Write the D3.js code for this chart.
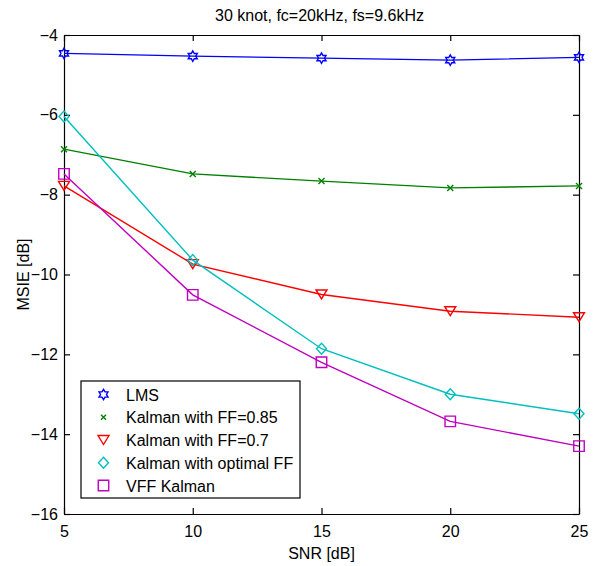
<!DOCTYPE html>
<html>
<head>
<meta charset="utf-8">
<script src="https://cdn.jsdelivr.net/npm/d3@7"></script>
<style>
  html, body { margin: 0; padding: 0; background: #fff; }
  svg { display: block; }
  text { font-family: "Liberation Sans", Arial, sans-serif; fill: #000; }
</style>
</head>
<body>
<script>
// SNR sweep and the MSIE of each estimator
const snr = [5, 10, 15, 20, 25];
const lms = [-4.46, -4.53, -4.58, -4.63, -4.56];
const kalmanFF085 = [-6.86, -7.48, -7.66, -7.83, -7.78];
const kalmanFF07 = [-7.78, -9.74, -10.50, -10.92, -11.07];
const kalmanOptimal = [-6.04, -9.64, -11.86, -13.00, -13.49];
const vffKalman = [-7.48, -10.51, -12.20, -13.68, -14.30];

const seriesNames = ["LMS", "Kalman with FF=0.85", "Kalman with FF=0.7", "Kalman with optimal FF", "VFF Kalman"];
const xTicks = [5, 10, 15, 20, 25];
const yTicks = [-16, -14, -12, -10, -8, -6, -4];
const titleText = "30 knot, fc=20kHz, fs=9.6kHz";
const xLabel = "SNR [dB]";
const yLabel = "MSIE [dB]";

const W = 596, H = 566;
const plot = { left: 64, right: 579, top: 35, bottom: 514 };

const x = d3.scaleLinear().domain([5, 25]).range([plot.left, plot.right]);
const y = d3.scaleLinear().domain([-16, -4]).range([plot.bottom, plot.top]);

// marker shapes (custom d3 symbol types)
const hexagram = {
  draw(ctx, size) {
    const R = Math.sqrt(size) * 0.62, r = R / Math.sqrt(3);
    for (let i = 0; i < 12; i++) {
      const a = -Math.PI / 2 + i * Math.PI / 6;
      const rr = i % 2 === 0 ? R : r;
      const px = rr * Math.cos(a), py = rr * Math.sin(a);
      i === 0 ? ctx.moveTo(px, py) : ctx.lineTo(px, py);
    }
    ctx.closePath();
  }
};
const cross = {
  draw(ctx, size) {
    const s = Math.sqrt(size) / 2;
    ctx.moveTo(-s, -s); ctx.lineTo(s, s);
    ctx.moveTo(-s, s); ctx.lineTo(s, -s);
  }
};
const triDown = {
  draw(ctx, size) {
    const w = Math.sqrt(size) * 1.1 / 2, h = Math.sqrt(size) * 0.9;
    ctx.moveTo(-w, -h / 2); ctx.lineTo(w, -h / 2); ctx.lineTo(0, h / 2); ctx.closePath();
  }
};
const diamond = {
  draw(ctx, size) {
    const w = Math.sqrt(size) * 0.5, h = Math.sqrt(size) * 0.55;
    ctx.moveTo(0, -h); ctx.lineTo(w, 0); ctx.lineTo(0, h); ctx.lineTo(-w, 0); ctx.closePath();
  }
};
const square = {
  draw(ctx, size) {
    const s = Math.sqrt(size) / 2;
    ctx.rect(-s, -s, 2 * s, 2 * s);
  }
};

const series = [
  { name: seriesNames[0], values: lms, color: "#0000ff", type: hexagram, size: 70 },
  { name: seriesNames[1], values: kalmanFF085, color: "#008000", type: cross, size: 36 },
  { name: seriesNames[2], values: kalmanFF07, color: "#ff0000", type: triDown, size: 100 },
  { name: seriesNames[3], values: kalmanOptimal, color: "#00bfbf", type: diamond, size: 100 },
  { name: seriesNames[4], values: vffKalman, color: "#bf00bf", type: square, size: 110 }
];

const svg = d3.select("body").append("svg").attr("width", W).attr("height", H);

// axes box with inward ticks on all four sides
const tickLen = 6;
const axisG = svg.append("g");
axisG.append("g").attr("transform", `translate(0,${plot.bottom})`)
  .call(d3.axisBottom(x).tickValues(xTicks).tickSizeInner(-tickLen).tickSizeOuter(0).tickPadding(12).tickFormat(d3.format("d")));
axisG.append("g").attr("transform", `translate(0,${plot.top})`)
  .call(d3.axisTop(x).tickValues(xTicks).tickSizeInner(-tickLen).tickSizeOuter(0).tickFormat(""));
axisG.append("g").attr("transform", `translate(${plot.left},0)`)
  .call(d3.axisLeft(y).tickValues(yTicks).tickSizeInner(-tickLen).tickSizeOuter(0).tickPadding(6).tickFormat(d3.format("d")));
axisG.append("g").attr("transform", `translate(${plot.right},0)`)
  .call(d3.axisRight(y).tickValues(yTicks).tickSizeInner(-tickLen).tickSizeOuter(0).tickFormat(""));
axisG.selectAll(".domain").attr("stroke", "#000").attr("stroke-width", 1.2);
axisG.selectAll(".tick line").attr("stroke", "#000").attr("stroke-width", 1.2);
axisG.selectAll(".tick text").attr("font-size", 16).attr("font-family", "Liberation Sans, Arial, sans-serif").attr("fill", "#000");

// series lines and markers
const line = d3.line().x((d, i) => x(snr[i])).y(d => y(d));
series.forEach(s => {
  svg.append("path").datum(s.values)
    .attr("d", line).attr("fill", "none")
    .attr("stroke", s.color).attr("stroke-width", 1.4);
  svg.append("g").selectAll("path").data(s.values).join("path")
    .attr("transform", (d, i) => `translate(${x(snr[i])},${y(d)})`)
    .attr("d", d3.symbol().type(s.type).size(s.size))
    .attr("fill", "none").attr("stroke", s.color).attr("stroke-width", 1.4);
});

// legend
const leg = { left: 81, top: 381, right: 300, bottom: 498 };
svg.append("rect")
  .attr("x", leg.left).attr("y", leg.top)
  .attr("width", leg.right - leg.left).attr("height", leg.bottom - leg.top)
  .attr("fill", "#fff").attr("stroke", "#000").attr("stroke-width", 1.2);
const rowY = d3.scalePoint().domain(seriesNames).range([394.5, 485.5]);
series.forEach(s => {
  const yy = rowY(s.name);
  svg.append("path")
    .attr("transform", `translate(103.5,${yy})`)
    .attr("d", d3.symbol().type(s.type).size(s.type === cross ? 25 : s.size))
    .attr("fill", "none").attr("stroke", s.color).attr("stroke-width", 1.4);
  svg.append("text").attr("x", 126).attr("y", yy + 6)
    .attr("font-size", 16).text(s.name);
});

// titles
svg.append("text").attr("x", (plot.left + plot.right) / 2 - 2).attr("y", 21)
  .attr("text-anchor", "middle").attr("font-size", 16).text(titleText);
svg.append("text").attr("x", (plot.left + plot.right) / 2).attr("y", 559)
  .attr("text-anchor", "middle").attr("font-size", 16).text(xLabel);
svg.append("text")
  .attr("transform", `translate(29,${(plot.top + plot.bottom) / 2}) rotate(-90)`)
  .attr("text-anchor", "middle").attr("font-size", 16).text(yLabel);
</script>
</body>
</html>
